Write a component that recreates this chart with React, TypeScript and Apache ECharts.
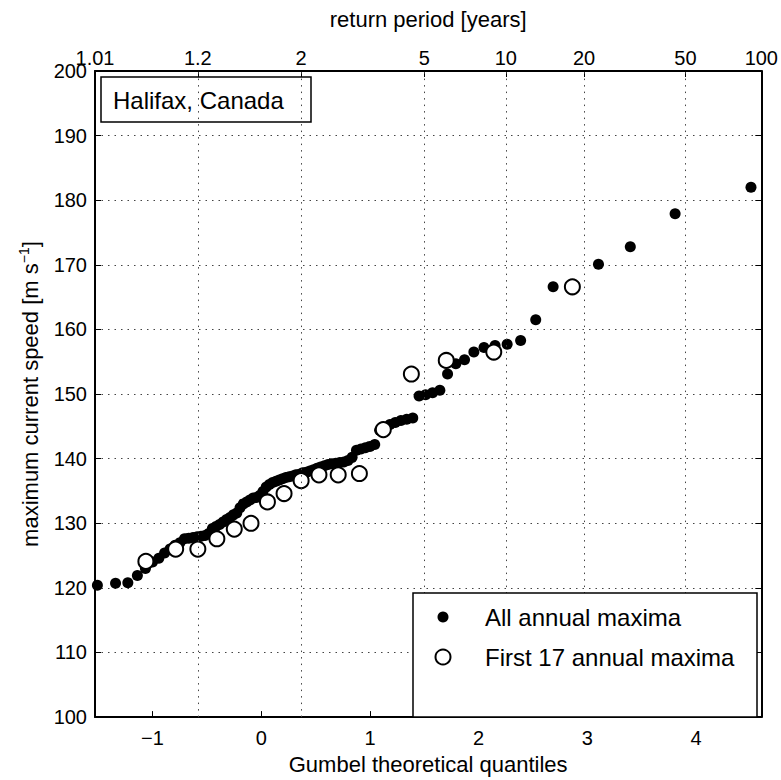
import React, { useEffect, useRef } from 'react';
import * as echarts from 'echarts';

const FONT = "'Liberation Sans', Arial, Helvetica, sans-serif";

// Gumbel theoretical quantiles (x) and maximum current speed (y) for all annual maxima
const allQ = [
  -1.507, -1.340, -1.227, -1.139, -1.065, -1.000, -0.942, -0.889, -0.839, -0.792,
  -0.748, -0.706, -0.666, -0.627, -0.589, -0.553, -0.517, -0.483, -0.449, -0.416,
  -0.383, -0.351, -0.319, -0.287, -0.256, -0.225, -0.195, -0.165, -0.134, -0.104,
  -0.074, -0.044, -0.014, 0.016, 0.046, 0.075, 0.105, 0.136, 0.166, 0.196,
  0.227, 0.257, 0.288, 0.319, 0.351, 0.382, 0.414, 0.447, 0.480, 0.513,
  0.546, 0.581, 0.615, 0.650, 0.686, 0.723, 0.760, 0.798, 0.836, 0.876,
  0.917, 0.958, 1.000, 1.044, 1.089, 1.136, 1.184, 1.233, 1.285, 1.338,
  1.394, 1.452, 1.512, 1.576, 1.643, 1.714, 1.790, 1.870, 1.956, 2.049,
  2.151, 2.262, 2.386, 2.525, 2.685, 2.873, 3.102, 3.395, 3.807, 4.505,
];
const allV = [
  120.4, 120.7, 120.8, 121.9, 123.0, 124.0, 124.6, 125.4, 126.0, 126.6,
  127.0, 127.6, 127.7, 127.8, 127.9, 128.0, 128.1, 128.4, 129.2, 129.5,
  129.8, 130.2, 130.6, 130.9, 131.3, 131.6, 132.4, 133.0, 133.3, 133.6,
  133.9, 134.0, 134.3, 134.9, 135.6, 136.0, 136.3, 136.5, 136.7, 136.9,
  137.1, 137.2, 137.3, 137.5, 137.6, 137.8, 137.9, 138.1, 138.3, 138.5,
  138.7, 138.9, 139.1, 139.2, 139.3, 139.4, 139.5, 139.7, 140.2, 141.3,
  141.5, 141.7, 141.9, 142.2, 144.4, 144.8, 145.3, 145.6, 145.9, 146.1,
  146.3, 149.7, 149.9, 150.2, 150.6, 153.1, 154.7, 155.3, 156.5, 157.2,
  157.5, 157.7, 158.3, 161.5, 166.6, 166.7, 170.1, 172.8, 177.9, 182.0,
];

// First 17 annual maxima
const firstQ = [-1.061, -0.787, -0.583, -0.408, -0.248, -0.094, 0.057, 0.210, 0.367, 0.531, 0.708, 0.903, 1.123, 1.381, 1.702, 2.139, 2.862];
const firstV = [124.1, 126.0, 126.0, 127.6, 129.1, 130.0, 133.3, 134.6, 136.6, 137.5, 137.5, 137.7, 144.5, 153.1, 155.2, 156.5, 166.6];

// Axes
const xMin = -1.529;
const xMax = 4.600;
const bottomTicks = [-1, 0, 1, 2, 3, 4];
const periodLabels = ['1.01', '1.2', '2', '5', '10', '20', '50', '100'];
const periodQ = [-1.529, -0.583, 0.367, 1.500, 2.250, 2.970, 3.902, 4.600];
const gridQ = [-0.583, 0.367, 1.500, 2.250, 2.970, 3.902];

const seriesNames = ['All annual maxima', 'First 17 annual maxima'];
const boxTitle = 'Halifax, Canada';

const dotted = { type: [1.5, 5] as any, color: '#444', width: 1 };
const axisLineStyle = { color: '#000', width: 2 };

function topLabel(v: number) {
  let best = 0;
  for (let i = 1; i < periodQ.length; i++) {
    if (Math.abs(periodQ[i] - v) < Math.abs(periodQ[best] - v)) best = i;
  }
  return periodLabels[best];
}

export default function App() {
  const ref = useRef<HTMLDivElement>(null);
  useEffect(() => {
    const chart = echarts.init(ref.current!, null, { renderer: 'svg' });
    const option: any = {
      animation: false,
      backgroundColor: '#fff',
      textStyle: { fontFamily: FONT, color: '#000' },
      grid: { left: 95, top: 71, width: 668, height: 651, show: false },
      xAxis: [
        {
          type: 'value',
          position: 'bottom',
          min: xMin,
          max: xMax,
          axisLine: { show: true, onZero: false, lineStyle: axisLineStyle },
          axisTick: { show: true, inside: true, length: 6, customValues: bottomTicks, lineStyle: { color: '#000', width: 1 } },
          axisLabel: {
            customValues: bottomTicks,
            formatter: (v: number) => (v < 0 ? '\u2212' + Math.abs(v) : String(v)),
            color: '#000', fontSize: 20, fontFamily: FONT, margin: 11,
          },
          splitLine: { show: false },
          name: 'Gumbel theoretical quantiles',
          nameLocation: 'middle',
          nameGap: 35,
          nameTextStyle: { fontSize: 22, fontFamily: FONT, color: '#000' },
        },
        {
          type: 'value',
          position: 'top',
          min: xMin,
          max: xMax,
          axisLine: { show: true, onZero: false, lineStyle: axisLineStyle },
          axisTick: { show: true, inside: true, length: 6, customValues: periodQ, lineStyle: { color: '#000', width: 1 } },
          axisLabel: {
            customValues: periodQ,
            formatter: (v: number) => topLabel(v),
            color: '#000', fontSize: 20, fontFamily: FONT, margin: 3,
            showMinLabel: true, showMaxLabel: true,
          },
          splitLine: { show: false },
          name: 'return period [years]',
          nameLocation: 'middle',
          nameGap: 41,
          nameTextStyle: { fontSize: 22, fontFamily: FONT, color: '#000' },
        },
      ],
      yAxis: [
        {
          type: 'value',
          position: 'left',
          min: 100,
          max: 200,
          interval: 10,
          axisLine: { show: true, onZero: false, lineStyle: axisLineStyle },
          axisTick: { show: true, inside: true, length: 6, lineStyle: { color: '#000', width: 1 } },
          axisLabel: { color: '#000', fontSize: 20, fontFamily: FONT, margin: 8 },
          splitLine: { show: true, lineStyle: dotted },
          name: 'maximum current speed [m s{sup|\u22121}]',
          nameLocation: 'middle',
          nameGap: 52,
          nameTextStyle: {
            fontSize: 22, fontFamily: FONT, color: '#000',
            rich: { sup: { fontSize: 14, fontFamily: FONT, color: '#000', padding: [0, 0, 12, 0] } },
          },
        },
        {
          type: 'value',
          position: 'right',
          min: 100,
          max: 200,
          interval: 10,
          axisLine: { show: true, onZero: false, lineStyle: axisLineStyle },
          axisTick: { show: true, inside: true, length: 6, lineStyle: { color: '#000', width: 1 } },
          axisLabel: { show: false },
          splitLine: { show: false },
        },
      ],
      series: [
        {
          type: 'scatter',
          name: 'grid',
          xAxisIndex: 0,
          yAxisIndex: 0,
          data: [],
          z: 1,
          silent: true,
          markLine: {
            silent: true,
            symbol: 'none',
            label: { show: false },
            lineStyle: dotted,
            data: gridQ.map((q) => ({ xAxis: q })),
          },
        },
        {
          type: 'scatter',
          name: seriesNames[0],
          xAxisIndex: 0,
          yAxisIndex: 0,
          symbol: 'circle',
          symbolSize: 11,
          itemStyle: { color: '#000', opacity: 1 },
          data: allQ.map((q, i) => [q, allV[i]]),
          z: 3,
        },
        {
          type: 'scatter',
          name: seriesNames[1],
          xAxisIndex: 0,
          yAxisIndex: 0,
          symbol: 'circle',
          symbolSize: 15,
          itemStyle: { color: '#fff', borderColor: '#000', borderWidth: 2, opacity: 1 },
          data: firstQ.map((q, i) => [q, firstV[i]]),
          z: 4,
        },
      ],
      graphic: [
        {
          type: 'rect', z: 100,
          shape: { x: 101, y: 77, width: 210, height: 45 },
          style: { fill: 'none', stroke: '#000', lineWidth: 1.5 },
        },
        {
          type: 'text', z: 101, x: 113, y: 100,
          style: { text: boxTitle, font: `24px ${FONT}`, fill: '#000', verticalAlign: 'middle' },
        },
        {
          type: 'rect', z: 100,
          shape: { x: 413, y: 593, width: 344, height: 124 },
          style: { fill: '#fff', stroke: '#000', lineWidth: 1.5 },
        },
        {
          type: 'circle', z: 101,
          shape: { cx: 443, cy: 617, r: 5.5 },
          style: { fill: '#000' },
        },
        {
          type: 'text', z: 101, x: 485, y: 617,
          style: { text: seriesNames[0], font: `24px ${FONT}`, fill: '#000', verticalAlign: 'middle' },
        },
        {
          type: 'circle', z: 101,
          shape: { cx: 443, cy: 657, r: 7.5 },
          style: { fill: '#fff', stroke: '#000', lineWidth: 2 },
        },
        {
          type: 'text', z: 101, x: 485, y: 657,
          style: { text: seriesNames[1], font: `24px ${FONT}`, fill: '#000', verticalAlign: 'middle' },
        },
      ],
    };
    chart.setOption(option);
    return () => chart.dispose();
  }, []);
  return (
    <div
      ref={ref}
      style={{ position: 'fixed', left: 0, top: 0, width: 781, height: 780, background: '#fff' }}
    />
  );
}
